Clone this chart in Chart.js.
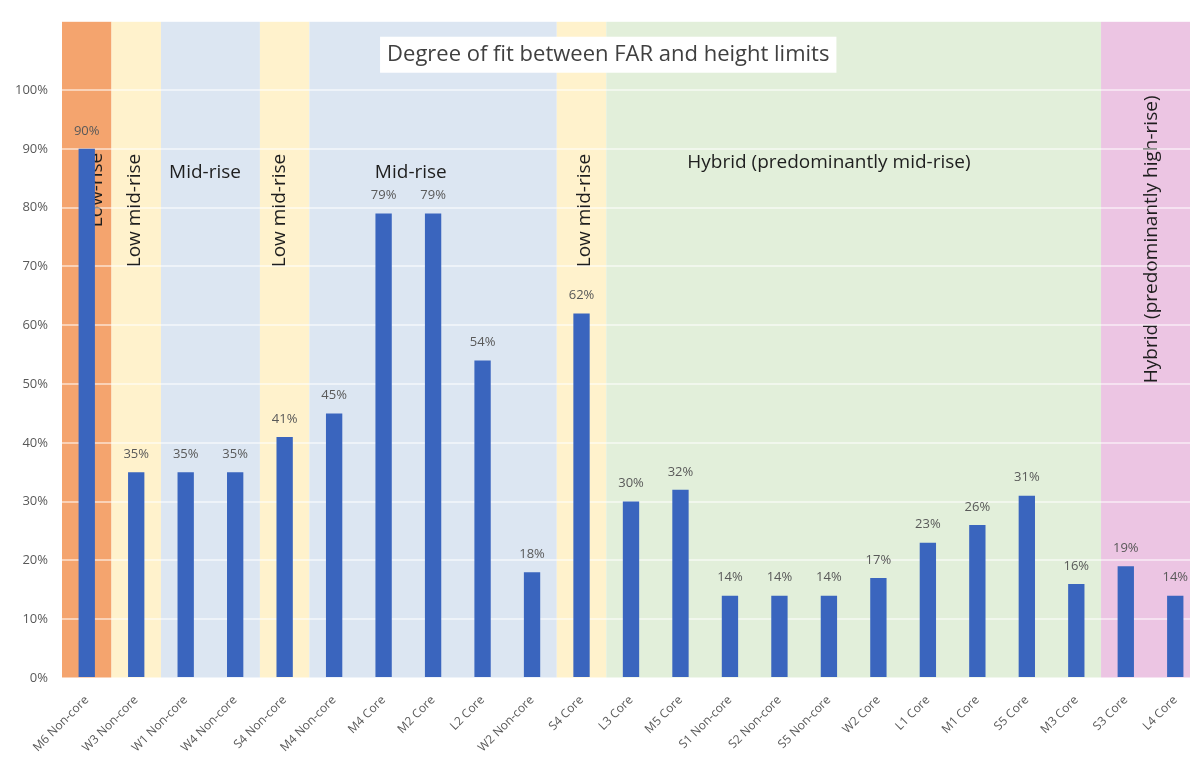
<!DOCTYPE html>
<html>
<head>
<meta charset="utf-8">
<script src="https://cdn.jsdelivr.net/npm/chart.js@4.4.1/dist/chart.umd.min.js"></script>
<style>
  html, body { margin: 0; padding: 0; background: #fff; overflow: hidden; width: 1190px; height: 763px; }
  canvas { display: block; }
</style>
</head>
<body>
<canvas id="chart" width="1200" height="763"></canvas>
<script>
const categories = ['M6 Non-core', 'W3 Non-core', 'W1 Non-core', 'W4 Non-core', 'S4 Non-core', 'M4 Non-core',
  'M4 Core', 'M2 Core', 'L2 Core', 'W2 Non-core', 'S4 Core', 'L3 Core', 'M5 Core', 'S1 Non-core',
  'S2 Non-core', 'S5 Non-core', 'W2 Core', 'L1 Core', 'M1 Core', 'S5 Core', 'M3 Core', 'S3 Core', 'L4 Core'];
const fitValues = [90, 35, 35, 35, 41, 45, 79, 79, 54, 18, 62, 30, 32, 14, 14, 14, 17, 23, 26, 31, 16, 19, 14];
const yTicks = [0, 10, 20, 30, 40, 50, 60, 70, 80, 90, 100];

// zones: first and last category of each coloured band
const zoneFrom = [0, 1, 2, 4, 5, 10, 11, 21];
const zoneTo = [0, 1, 3, 4, 9, 10, 20, 22];
const zoneNames = ['Low-rise', 'Low mid-rise', 'Mid-rise', 'Low mid-rise', 'Mid-rise', 'Low mid-rise',
  'Hybrid (predominantly mid-rise)', 'Hybrid (predominantly high-rise)'];
const chartTitle = 'Degree of fit between FAR and height limits';

const zoneColors = ['#F4A46E', '#FFF2CC', '#DCE6F2', '#FFF2CC', '#DCE6F2', '#FFF2CC', '#E2EFDA', '#ECC5E3'];
// where each zone label sits (category index, value, vertical?)
const zoneLabelPos = [
  {x: 0.2, y: 83, rot: true},
  {x: 0.97, y: 79.5, rot: true},
  {x: 2.39, y: 86, rot: false},
  {x: 3.9, y: 79.5, rot: true},
  {x: 6.55, y: 86, rot: false},
  {x: 10.07, y: 79.5, rot: true},
  {x: 15.0, y: 87.7, rot: false},
  {x: 21.52, y: 74.6, rot: true}
];

const FONT = '"Open Sans", "DejaVu Sans", sans-serif';

const zonesPlugin = {
  id: 'zones',
  beforeDraw(chart) {
    const {ctx, chartArea, scales: {x, y}} = chart;
    const w = x.width / categories.length;
    ctx.save();
    zoneFrom.forEach((from, i) => {
      const left = x.getPixelForValue(from) - w / 2;
      const right = x.getPixelForValue(zoneTo[i]) + w / 2;
      ctx.fillStyle = zoneColors[i];
      ctx.fillRect(left, chartArea.top, right - left, chartArea.bottom - chartArea.top);
    });
    ctx.fillStyle = '#1e1e1e';
    ctx.font = '19px ' + FONT;
    ctx.textAlign = 'center';
    ctx.textBaseline = 'middle';
    zoneNames.forEach((name, i) => {
      const p = zoneLabelPos[i];
      const px = x.getPixelForValue(p.x);
      const py = y.getPixelForValue(p.y);
      ctx.save();
      ctx.translate(px, py);
      if (p.rot) ctx.rotate(-Math.PI / 2);
      ctx.fillText(name, 0, 0);
      ctx.restore();
    });
    ctx.restore();
  },
  afterDatasetsDraw(chart) {
    const {ctx} = chart;
    const meta = chart.getDatasetMeta(0);
    ctx.save();
    ctx.fillStyle = '#595959';
    ctx.font = '13px ' + FONT;
    ctx.textAlign = 'center';
    ctx.textBaseline = 'middle';
    meta.data.forEach((bar, i) => {
      ctx.fillText(fitValues[i] + '%', bar.x, bar.y - 18);
    });
    ctx.restore();
  },
  afterDraw(chart) {
    const {ctx, scales: {x, y}} = chart;
    const cx = x.getPixelForValue(10.54);
    const cy = y.getPixelForValue(106);
    ctx.save();
    ctx.font = '22px ' + FONT;
    const tw = ctx.measureText(chartTitle).width;
    ctx.fillStyle = '#ffffff';
    ctx.fillRect(cx - tw / 2 - 7, cy - 18, tw + 14, 36);
    ctx.fillStyle = '#404040';
    ctx.textAlign = 'center';
    ctx.textBaseline = 'middle';
    ctx.fillText(chartTitle, cx, cy);
    ctx.restore();
  }
};

const chart = new Chart(document.getElementById('chart'), {
  type: 'bar',
  data: {
    labels: categories,
    datasets: [{
      data: fitValues,
      backgroundColor: '#3A65BE',
      barPercentage: 0.33,
      categoryPercentage: 1
    }]
  },
  options: {
    responsive: false,
    animation: false,
    layout: {padding: {top: 15, right: 0, left: 0, bottom: 0}},
    plugins: {
      legend: {display: false},
      tooltip: {enabled: false}
    },
    scales: {
      x: {
        grid: {display: false},
        border: {display: false},
        ticks: {
          color: '#595959',
          font: {family: FONT, size: 12},
          minRotation: 45,
          maxRotation: 45,
          autoSkip: false,
          padding: 7
        },
        afterFit(s) { s.height = 85; }
      },
      y: {
        min: 0,
        max: 111.6,
        border: {display: false},
        grid: {color: 'rgba(255,255,255,0.5)', lineWidth: 2, drawTicks: false},
        afterBuildTicks(s) { s.ticks = yTicks.map(v => ({value: v})); },
        ticks: {
          color: '#595959',
          font: {family: FONT, size: 13},
          padding: 14,
          callback: v => v + '%'
        },
        afterFit(s) { s.width = 62; }
      }
    }
  },
  plugins: [zonesPlugin]
});
</script>
</body>
</html>
